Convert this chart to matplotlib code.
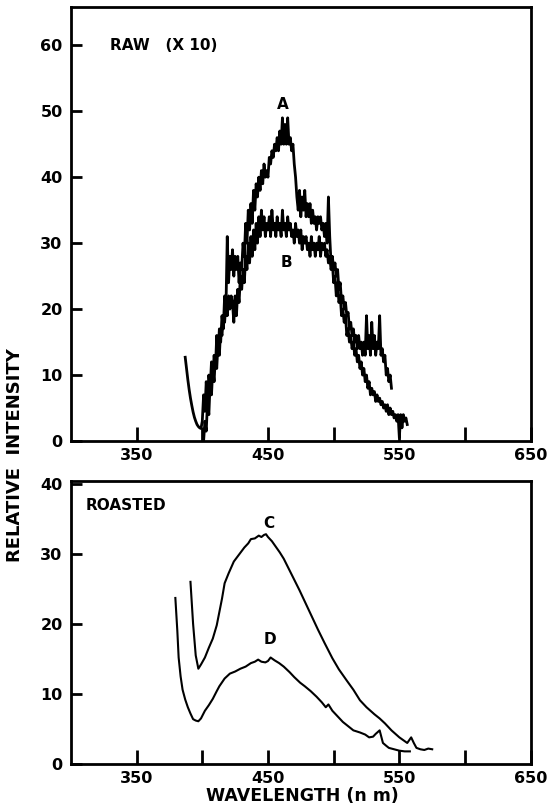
import numpy as np
import matplotlib
matplotlib.use("Agg")
import matplotlib.pyplot as plt

# Raw extract (x10), traces A and B, every 1 nm
raw_a_start = 387
raw_a = [12.7, 11, 9.3, 7.8, 6.5, 5.4, 4.4, 3.6, 3.0, 2.5, 2.2, 2.0, 1.9, 3.0,
         7, 4.5, 9, 6, 10, 8, 12, 9.5, 13, 11,
         16, 13, 17, 15, 19, 17, 22, 20, 31, 24,
         28, 26, 29, 25, 28, 26, 28, 24, 27, 26,
         30, 28, 33, 30, 35, 32, 36, 33, 38, 35,
         39, 37, 40, 38, 41, 39, 42, 40, 41, 40,
         43, 42, 44, 43, 45, 44, 46, 44, 47, 45,
         49, 45, 48, 45, 49, 45, 46, 44, 45, 42,
         40, 37, 35, 38, 34, 37, 35, 38, 34, 36,
         34, 36, 33, 35, 33, 34, 32, 34, 33, 34,
         32, 33, 31, 33, 30, 37, 31, 27, 28, 26,
         27, 25, 26, 23, 24, 21, 22, 20, 21, 19,
         19.5, 17, 18, 16, 17, 15, 16, 14, 16, 14,
         15, 13, 15, 13, 19, 14, 16, 13, 18, 14,
         16, 13, 15, 14, 19, 13, 14, 12, 13, 10,
         11, 9, 10, 8]

raw_b_start = 401
raw_b = [0, 3, 1.5, 6, 4, 9, 7, 11, 9, 13,
         11, 15, 13, 17, 16, 19, 18, 21, 19, 22,
         20, 22, 21, 18, 22, 19, 23, 21, 25, 23,
         26, 24, 28, 26, 30, 27, 31, 28, 32, 29,
         33, 30, 34, 31, 35, 32, 34, 31, 33, 32,
         34, 31, 35, 32, 33, 31, 34, 32, 33, 31,
         35, 32, 33, 31, 34, 32, 33, 31, 32, 30,
         33, 31, 32, 30, 32, 29, 31, 30, 31, 29,
         30, 28, 31, 29, 30, 28, 30, 29, 31, 28,
         30, 29, 30, 28, 29, 27, 28, 26, 27, 24,
         25, 22, 24, 21, 22, 19, 20, 18, 19, 16,
         17, 15, 16, 14, 15, 13, 14, 12, 13, 11,
         12, 10, 11, 9, 10, 8, 9, 7, 8, 7,
         7.5, 6, 7, 6, 6.5, 5.5, 6, 5, 5.5, 4.5,
         5.5, 4, 5, 4, 4.5, 3.5, 4, 3, 4, 0.5,
         4, 2, 4, 3, 3.5, 2.5]

# Roasted extract, traces C and D
roast_c_wl = [391, 393, 395, 397, 399, 402, 405, 408, 411, 413, 415, 417, 420, 424,
              428, 432, 435, 437, 440, 443, 445, 447, 448.5, 450, 453, 456, 459, 462,
              466, 470, 474, 478, 483, 488, 493, 499, 504, 510, 515, 520, 525, 531,
              535, 539, 544, 550, 553, 556, 559, 561, 563, 566, 569, 572, 575]
roast_c = [26, 20, 15.5, 13.6, 14.2, 15.2, 16.6, 17.9, 19.8, 21.7, 23.6, 25.8, 27.2, 28.9,
           29.9, 30.9, 31.5, 32.1, 32.2, 32.6, 32.4, 32.7, 32.8, 32.4, 31.8, 31.0, 30.2, 29.3,
           27.8, 26.3, 24.8, 23.2, 21.2, 19.2, 17.3, 15.1, 13.5, 11.9, 10.6, 9.1, 8.1, 7.1,
           6.5, 5.8, 4.8, 3.8, 3.4, 3.0, 3.8, 3.0, 2.3, 2.1, 2.0, 2.2, 2.1]

roast_d_wl = [379.5, 381, 382, 383.5, 385, 387, 389, 391, 393, 395, 397, 399, 402, 405,
              408, 411, 413, 417, 421, 425, 429, 433, 437, 440, 442.5, 445, 448, 450,
              452, 455, 458.5, 462, 466.5, 470, 474.5, 478, 482.5, 487, 491, 494, 496,
              499, 501.5, 504, 507, 511, 515, 520, 524, 527, 530, 532, 535, 537.5, 540,
              542, 546, 550, 554, 558]
roast_d = [23.7, 19, 15.2, 12.5, 10.6, 9.2, 8.1, 7.2, 6.4, 6.2, 6.1, 6.5, 7.6, 8.4,
           9.3, 10.4, 11.1, 12.2, 12.9, 13.2, 13.6, 13.9, 14.4, 14.6, 14.9, 14.6, 14.5, 14.7,
           15.2, 14.8, 14.4, 13.9, 13.1, 12.4, 11.6, 11.1, 10.4, 9.6, 8.8, 8.1, 8.5,
           7.6, 7.1, 6.6, 6.0, 5.4, 4.8, 4.5, 4.2, 3.8, 3.9, 4.3, 4.8, 3.0, 2.6,
           2.3, 2.1, 1.9, 1.8, 1.8]

wl_ticks = [350, 400, 450, 500, 550, 600, 650]
wl_labels = ["350", "", "450", "", "550", "", "650"]

plt.rcParams['font.family'] = ['DejaVu Sans']
plt.rcParams['font.weight'] = 'bold'

fig = plt.figure(figsize=(5.54, 8.07), dpi=100)
ax1 = fig.add_axes([0.128, 0.4535, 0.830, 0.5378])
ax2 = fig.add_axes([0.128, 0.0533, 0.830, 0.3507])

for ax in (ax1, ax2):
    for s in ax.spines.values():
        s.set_linewidth(2.0)
    ax.set_xlim(300, 650)
    ax.set_xticks(wl_ticks)
    ax.set_xticklabels(wl_labels)
    ax.tick_params(axis='x', direction='in', length=10, width=2, pad=5, labelsize=11.5)
    ax.tick_params(axis='y', direction='in', length=8, width=2, pad=6, labelsize=11.5)

# top panel
wa = np.arange(raw_a_start, raw_a_start + len(raw_a))
wb = np.arange(raw_b_start, raw_b_start + len(raw_b))
ax1.plot(wa, raw_a, color='black', lw=2.0)
ax1.plot(wb, raw_b, color='black', lw=2.0)
ax1.set_ylim(0, 65.8)
ax1.set_yticks([0, 10, 20, 30, 40, 50, 60])
ax1.text(330, 60, "RAW   (X 10)", fontsize=11, fontweight='bold', va='center')
ax1.text(461.5, 51, "A", fontsize=11, fontweight='bold', ha='center', va='center')
ax1.text(464, 27, "B", fontsize=11, fontweight='bold', ha='center', va='center')

# bottom panel
ax2.plot(roast_c_wl, roast_c, color='black', lw=1.5)
ax2.plot(roast_d_wl, roast_d, color='black', lw=1.5)
ax2.set_ylim(0, 40.4)
ax2.set_yticks([0, 10, 20, 30, 40])
ax2.text(311, 36.9, "ROASTED", fontsize=11, fontweight='bold', va='center')
ax2.text(450.5, 34.4, "C", fontsize=11, fontweight='bold', ha='center', va='center')
ax2.text(451.5, 17.7, "D", fontsize=11, fontweight='bold', ha='center', va='center')

fig.text(0.545, 1 - 796 / 807, "WAVELENGTH (n m)", fontsize=12.5,
         fontweight='bold', ha='center', va='center')
fig.text(0.027, 1 - 455 / 807, "RELATIVE  INTENSITY", rotation=90, fontsize=13,
         fontweight='bold', ha='center', va='center')

fig.savefig("out.png", dpi=100)
